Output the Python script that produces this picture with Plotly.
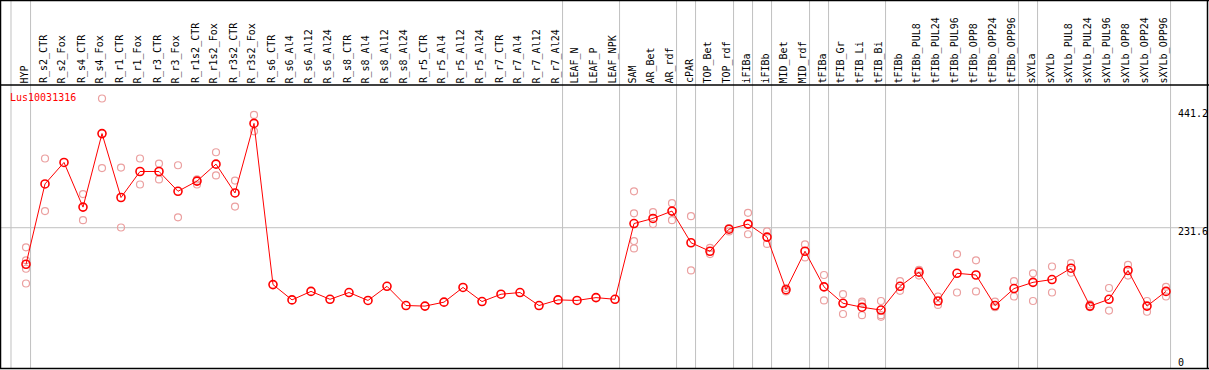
import plotly.graph_objects as go

W, H = 1209, 370

categories = ["HYP", "R_s2_CTR", "R_s2_Fox", "R_s4_CTR", "R_s4_Fox", "R_r1_CTR", "R_r1_Fox",
              "R_r3_CTR", "R_r3_Fox", "R_r1s2_CTR", "R_r1s2_Fox", "R_r3s2_CTR", "R_r3s2_Fox",
              "R_s6_CTR", "R_s6_Al4", "R_s6_Al12", "R_s6_Al24", "R_s8_CTR", "R_s8_Al4",
              "R_s8_Al12", "R_s8_Al24", "R_r5_CTR", "R_r5_Al4", "R_r5_Al12", "R_r5_Al24",
              "R_r7_CTR", "R_r7_Al4", "R_r7_Al12", "R_r7_Al24", "LEAF_N", "LEAF_P", "LEAF_NPK",
              "SAM", "AR_Bet", "AR_rdf", "cPAR", "TOP_Bet", "TOP_rdf", "iFIBa", "iFIBb",
              "MID_Bet", "MID_rdf", "tFIBa", "tFIB_Gr", "tFIB_Li", "tFIB_Bi", "tFIBb",
              "tFIBb_PUL8", "tFIBb_PUL24", "tFIBb_PUL96", "tFIBb_OPP8", "tFIBb_OPP24",
              "tFIBb_OPP96", "sXYLa", "sXYLb", "sXYLb_PUL8", "sXYLb_PUL24", "sXYLb_PUL96",
              "sXYLb_OPP8", "sXYLb_OPP24", "sXYLb_OPP96"]

means = [167, 309, 347, 268, 398, 285, 331, 331, 296, 314, 344, 293, 416,
         131, 104, 119, 105, 117, 103, 128, 94, 93, 100, 126, 101, 114, 117, 94, 104,
         103, 108, 105,
         239, 248, 261, 205, 190, 229, 238, 215, 122, 190, 127, 98, 91, 86, 128,
         153, 102, 151, 148, 94, 124, 135, 140, 160, 93, 105, 156, 93, 119]

replicates = [[197, 174, 159, 133], [354, 261], [], [291, 245], [460, 337], [338, 232],
              [354, 308], [345, 317], [342, 250], [317, 308], [365, 324], [315, 269],
              [431, 402],
              [], [], [], [], [], [], [], [], [], [], [], [], [], [], [], [], [], [], [],
              [296, 257, 208, 195], [259, 238], [275, 245], [252, 156], [196, 185],
              [231, 225], [258, 220], [225, 203], [125, 119], [202, 179], [148, 103],
              [114, 79], [101, 98, 77], [102, 77, 74], [137, 120], [157, 147], [110, 95],
              [185, 117], [174, 119], [101, 91], [137, 110], [151, 102], [163, 117],
              [169, 152], [96, 91], [125, 85], [166, 147], [102, 83], [127, 110]]

# indices of categories after which a group separator is drawn
group_ends = [-1.03, 0, 28, 31, 34, 35, 37, 38, 39, 41, 42, 45, 52, 53, 60]

gene_label = "Lus10031316"
y_ticks = [0, 231.6, 441.2]
y_tick_text = ["0", "231.6", "441.2"]

# pixel mapping
X0, DX = 26.0, 19.0            # pixel of first category, pixel spacing
Y0, KY = 358.7, 0.5656         # pixel of value 0, pixels per unit
HEADER = 85                    # header bottom line pixel

x_range = [-X0 / DX, (W - X0) / DX]
y_range = [(Y0 - H) / KY, Y0 / KY]

def px(xp):
    return xp / W

def py(yp):
    return 1 - yp / H

xs = list(range(len(categories)))

fig = go.Figure()

rx, ry = [], []
for i, reps in enumerate(replicates):
    for v in reps:
        rx.append(i)
        ry.append(v)

fig.add_trace(go.Scatter(
    x=rx, y=ry, mode="markers",
    marker=dict(symbol="circle-open", size=7, color="#eba0a0", line=dict(width=1.2, color="#eba0a0")),
    hoverinfo="skip", showlegend=False))

fig.add_trace(go.Scatter(
    x=xs, y=means, mode="lines+markers",
    line=dict(color="#ff0000", width=1),
    marker=dict(symbol="circle-open", size=8, color="#ff0000", line=dict(width=1.6, color="#ff0000")),
    showlegend=False))

shapes = []
grid = "#c0c0c0"
for g in group_ends:
    xg = g + 0.24
    shapes.append(dict(type="line", xref="x", yref="paper", x0=xg, x1=xg,
                       y0=py(368), y1=py(0), line=dict(color=grid, width=1), layer="below"))
shapes.append(dict(type="line", xref="paper", yref="y", x0=0, x1=px(1208), y0=231.6, y1=231.6,
                   line=dict(color=grid, width=1), layer="below"))
blk = "#000000"
shapes += [
    dict(type="line", xref="paper", yref="paper", x0=px(0), x1=px(1209), y0=py(0.5), y1=py(0.5), line=dict(color=blk, width=1.5)),
    dict(type="line", xref="paper", yref="paper", x0=px(0), x1=px(1209), y0=py(HEADER), y1=py(HEADER), line=dict(color=blk, width=1.5)),
    dict(type="line", xref="paper", yref="paper", x0=px(0), x1=px(1209), y0=py(368.5), y1=py(368.5), line=dict(color=blk, width=1.5)),
    dict(type="line", xref="paper", yref="paper", x0=px(0.5), x1=px(0.5), y0=py(0), y1=py(369), line=dict(color=blk, width=1.5)),
    dict(type="line", xref="paper", yref="paper", x0=px(1207.5), x1=px(1207.5), y0=py(0), y1=py(369), line=dict(color=blk, width=1.5)),
]

font = "DejaVu Sans Mono"
annotations = []
for i, c in enumerate(categories):
    annotations.append(dict(x=i - 0.08, y=py(HEADER - 1), xref="x", yref="paper", text=c,
                            textangle=-90, xanchor="center", yanchor="bottom", showarrow=False,
                            font=dict(family=font, size=10, color="#000000"), borderpad=0))
annotations.append(dict(x=px(9), y=py(97), xref="paper", yref="paper", text=gene_label,
                        xanchor="left", yanchor="middle", showarrow=False,
                        font=dict(family=font, size=10, color="#ff0000"), borderpad=0))
for v, t in zip(y_ticks, y_tick_text):
    annotations.append(dict(x=px(1177), y=v, xref="paper", yref="y", text=t, yshift=-4,
                            xanchor="left", yanchor="middle", showarrow=False,
                            font=dict(family=font, size=10, color="#000000"), borderpad=0))

fig.update_layout(
    width=W, height=H, margin=dict(l=0, r=0, t=0, b=0),
    paper_bgcolor="white", plot_bgcolor="white",
    xaxis=dict(range=x_range, visible=False, fixedrange=True),
    yaxis=dict(range=y_range, visible=False, fixedrange=True),
    shapes=shapes, annotations=annotations, showlegend=False,
)

fig.write_html("out.html", config={"displayModeBar": False},
               post_script="document.body.style.margin='0';document.body.style.overflow='hidden';")
